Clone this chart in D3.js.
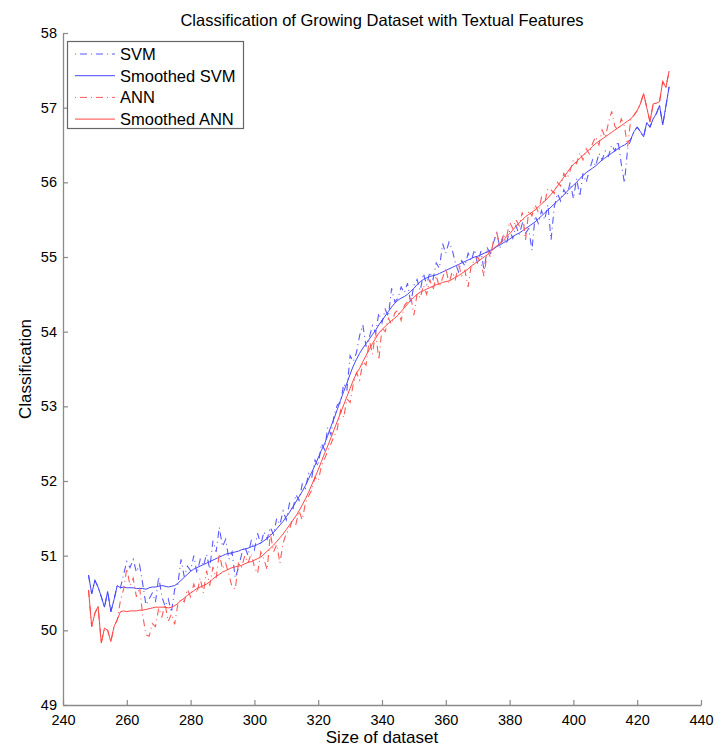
<!DOCTYPE html>
<html>
<head>
<meta charset="utf-8">
<script src="https://cdn.jsdelivr.net/npm/d3@7"></script>
<style>
  body { margin: 0; background: #fff; }
  svg text { font-family: "Liberation Sans", Arial, Helvetica, sans-serif; fill: #000; }
</style>
</head>
<body>
<svg id="chart" width="722" height="751"></svg>
<script>
// Werte
var xStart = 248;   // erster Wert der Datenreihe
var svmRaw = [
  50.74, 50.49, 50.67, 50.58, 50.45, 50.31, 50.52, 50.25, 50.41, 50.60, 50.57,
  50.75, 50.92, 50.84, 50.95, 50.78, 50.88, 50.62, 50.34, 50.42, 50.50, 50.38, 50.72,
  50.45, 50.32, 50.42, 50.24, 50.55, 50.62, 50.95, 50.72, 50.86, 50.80,
  51.00, 50.76, 50.95, 50.86, 51.02, 50.82, 51.20, 51.05, 51.38, 51.12,
  51.22, 50.95, 51.05, 50.70, 50.84, 51.02, 51.12, 51.00, 51.20, 51.08,
  51.30, 51.15, 51.32, 51.22, 51.38, 51.28, 51.50, 51.42, 51.60, 51.48,
  51.70, 51.60, 51.82, 51.74, 51.96, 51.90, 52.10, 52.05, 52.28, 52.20,
  52.50, 52.42, 52.72, 52.62, 52.88, 53.02, 53.05, 53.30, 53.22, 53.68,
  53.60, 53.72, 53.95, 54.09, 53.80, 53.92, 54.08, 53.98, 54.25, 54.12,
  54.30, 54.20, 54.58, 54.40, 54.45, 54.60, 54.52, 54.65, 54.38, 54.62,
  54.70, 54.55, 54.78, 54.62, 54.80, 54.70, 54.92, 54.85, 55.18, 55.05,
  55.20, 55.10, 54.92, 54.80, 54.95, 54.88, 55.05, 54.95, 55.10, 54.90,
  55.08, 54.82, 55.12, 55.05, 55.20, 55.32, 55.12, 55.28, 55.18, 55.35,
  55.25, 55.42, 55.30, 55.45, 55.32, 55.38, 55.09, 55.55, 55.45, 55.62,
  55.50, 55.70, 55.23, 55.67, 55.85, 55.75, 55.90, 55.82, 56.00, 55.78,
  56.05, 55.81, 56.12, 56.00, 56.16, 56.30, 56.22, 56.39, 56.30, 56.42,
  56.35, 56.50, 56.42, 56.55, 56.25, 55.99, 56.45, 56.57, 56.68, 56.74,
  56.68, 56.61, 56.80, 56.74, 56.85, 56.92, 57.03, 56.77, 57.02, 57.28
];
var svmSmooth = [
  50.74, 50.49, 50.67, 50.58, 50.45, 50.31, 50.52, 50.25, 50.41, 50.60, 50.57,
  50.58, 50.57, 50.57, 50.57, 50.56, 50.56, 50.56, 50.55, 50.57, 50.58, 50.58, 50.59,
  50.60, 50.59, 50.58, 50.59, 50.60, 50.63, 50.67, 50.71, 50.75, 50.79,
  50.82, 50.84, 50.86, 50.88, 50.90, 50.92, 50.94, 50.96, 50.98, 51.00,
  51.02, 51.03, 51.04, 51.05, 51.06, 51.08, 51.09, 51.10, 51.12, 51.13,
  51.15, 51.17, 51.20, 51.23, 51.27, 51.31, 51.36, 51.41, 51.46, 51.52,
  51.58, 51.65, 51.72, 51.79, 51.86, 51.94, 52.03, 52.12, 52.21, 52.31,
  52.41, 52.50, 52.61, 52.73, 52.84, 52.96, 53.08, 53.20, 53.31, 53.43,
  53.54, 53.63, 53.71, 53.78, 53.84, 53.90, 53.96, 54.02, 54.09, 54.15,
  54.21, 54.27, 54.33, 54.38, 54.42, 54.45, 54.47, 54.50, 54.54, 54.58,
  54.63, 54.67, 54.70, 54.72, 54.74, 54.75, 54.76, 54.78, 54.80, 54.82,
  54.84, 54.86, 54.88, 54.90, 54.92, 54.94, 54.96, 54.98, 55.00, 55.01,
  55.03, 55.05, 55.07, 55.09, 55.11, 55.14, 55.16, 55.19, 55.21, 55.24,
  55.27, 55.30, 55.32, 55.35, 55.38, 55.41, 55.44, 55.47, 55.51, 55.55,
  55.59, 55.63, 55.67, 55.71, 55.75, 55.79, 55.83, 55.88, 55.92, 55.96,
  56.00, 56.05, 56.09, 56.13, 56.16, 56.19, 56.22, 56.26, 56.30, 56.33,
  56.36, 56.39, 56.42, 56.45, 56.48, 56.50, 56.53, 56.58, 56.68, 56.74,
  56.68, 56.61, 56.80, 56.74, 56.85, 56.92, 57.03, 56.77, 57.02, 57.28
];
var annRaw = [
  50.54, 50.05, 50.23, 50.32, 49.83, 50.03, 50.00, 49.85, 50.05, 50.14, 50.40,
  50.55, 50.83, 50.60, 50.70, 50.45, 50.58, 50.20, 49.94, 49.92, 50.09, 50.05, 50.30,
  50.18, 50.35, 50.12, 50.22, 50.08, 50.35, 50.42, 50.38, 50.55, 50.45,
  50.62, 50.50, 50.70, 50.50, 50.80, 50.60, 50.85, 50.70, 51.03, 50.82,
  50.90, 50.75, 50.58, 50.55, 50.90, 50.85, 51.00, 50.90, 51.03, 50.85,
  50.76, 51.05, 50.95, 50.81, 51.30, 51.05, 51.15, 50.90, 51.17, 51.30,
  51.35, 51.50, 51.42, 51.60, 51.48, 51.70, 51.80, 51.88, 52.05, 52.00,
  52.20, 52.30, 52.40, 52.50, 52.60, 52.70, 52.95, 52.85, 53.10, 53.05,
  53.30, 53.45, 53.35, 53.60, 53.55, 53.89, 53.70, 54.00, 53.62, 54.05,
  54.00, 54.18, 54.10, 54.25, 54.29, 54.15, 54.35, 54.40, 54.48, 54.22,
  54.51, 54.45, 54.62, 54.50, 54.70, 54.55, 54.75, 54.60, 54.72, 54.85,
  54.65, 54.80, 54.70, 54.90, 54.75, 54.82, 54.60, 54.90, 54.95, 55.00,
  54.92, 54.74, 55.08, 55.00, 55.23, 55.32, 55.15, 55.30, 55.25, 55.47,
  55.38, 55.50, 55.42, 55.60, 55.23, 55.62, 55.55, 55.70, 55.60, 55.80,
  55.72, 55.92, 55.90, 55.85, 56.00, 55.95, 56.12, 56.05, 56.16, 56.30,
  56.25, 56.40, 56.30, 56.45, 56.38, 56.52, 56.61, 56.50, 56.70, 56.60,
  56.80, 56.95, 56.75, 56.70, 56.85, 56.75, 56.48, 56.85, 56.90, 56.96,
  57.05, 57.19, 57.00, 56.81, 57.05, 57.06, 57.08, 57.35, 57.27, 57.49
];
var annSmooth = [
  50.54, 50.05, 50.23, 50.32, 49.83, 50.03, 50.00, 49.85, 50.05, 50.14, 50.25,
  50.26, 50.25, 50.26, 50.26, 50.26, 50.27, 50.27, 50.28, 50.29, 50.30, 50.31, 50.31,
  50.31, 50.31, 50.30, 50.31, 50.33, 50.36, 50.40, 50.43, 50.47, 50.50,
  50.53, 50.56, 50.58, 50.60, 50.62, 50.65, 50.69, 50.72, 50.75, 50.78,
  50.80, 50.82, 50.84, 50.85, 50.86, 50.87, 50.89, 50.91, 50.92, 50.94,
  50.96, 50.98, 51.02, 51.06, 51.10, 51.14, 51.19, 51.24, 51.29, 51.35,
  51.41, 51.47, 51.53, 51.60, 51.68, 51.76, 51.85, 51.95, 52.05, 52.15,
  52.26, 52.37, 52.47, 52.58, 52.69, 52.80, 52.91, 53.02, 53.13, 53.24,
  53.35, 53.44, 53.51, 53.60, 53.68, 53.76, 53.84, 53.91, 53.98, 54.03,
  54.07, 54.11, 54.15, 54.18, 54.22, 54.27, 54.32, 54.37, 54.42, 54.46,
  54.50, 54.53, 54.55, 54.57, 54.59, 54.61, 54.63, 54.64, 54.66, 54.67,
  54.68, 54.70, 54.73, 54.75, 54.78, 54.81, 54.84, 54.88, 54.91, 54.94,
  54.97, 55.00, 55.03, 55.07, 55.11, 55.15, 55.18, 55.22, 55.27, 55.31,
  55.36, 55.41, 55.46, 55.50, 55.54, 55.57, 55.60, 55.63, 55.67, 55.71,
  55.75, 55.79, 55.84, 55.89, 55.95, 56.01, 56.07, 56.13, 56.19, 56.24,
  56.28, 56.32, 56.36, 56.40, 56.44, 56.48, 56.52, 56.55, 56.58, 56.61,
  56.64, 56.67, 56.70, 56.73, 56.76, 56.79, 56.82, 56.85, 56.90, 56.96,
  57.05, 57.19, 57.00, 56.81, 57.05, 57.06, 57.08, 57.35, 57.27, 57.49
];
var xTicks = [240, 260, 280, 300, 320, 340, 360, 380, 400, 420, 440];
var yTicks = [49, 50, 51, 52, 53, 54, 55, 56, 57, 58];

var titel = "Classification of Growing Dataset with Textual Features";
var xLabel = "Size of dataset";
var yLabel = "Classification";

var serien = [
  { name: "SVM", werte: svmRaw, farbe: "#5a5aff", dash: "7,4,1,4", breite: 1.1 },
  { name: "Smoothed SVM", werte: svmSmooth, farbe: "#4646ff", dash: null, breite: 1 },
  { name: "ANN", werte: annRaw, farbe: "#ff5a5a", dash: "7,4,1,4", breite: 1.1 },
  { name: "Smoothed ANN", werte: annSmooth, farbe: "#ff4646", dash: null, breite: 1 }
];

// Rahmen
var svg = d3.select("#chart"),
    randLinks = 63, randRechts = 701, randOben = 33, randUnten = 705;

var xScale = d3.scaleLinear().domain([240, 440]).range([randLinks, randRechts]),
    yScale = d3.scaleLinear().domain([49, 58]).range([randUnten, randOben]);

var achsenFarbe = "#8a8a8a";

// Linien
var line = d3.line()
    .x(function (d, i) { return xScale(xStart + i); })
    .y(function (d) { return yScale(d); });

svg.append("g").selectAll("path")
    .data(serien)
    .enter().append("path")
    .attr("d", function (d) { return line(d.werte); })
    .attr("fill", "none")
    .attr("stroke", function (d) { return d.farbe; })
    .attr("stroke-width", function (d) { return d.breite; })
    .attr("stroke-dasharray", function (d) { return d.dash; });

// X-Achse (Ticks nach innen)
var xAxis = svg.append("g")
    .attr("transform", "translate(0," + randUnten + ")")
    .call(d3.axisBottom(xScale).tickValues(xTicks).tickSizeInner(-5).tickSizeOuter(0).tickPadding(8));

// Y-Achse
var yAxis = svg.append("g")
    .attr("transform", "translate(" + randLinks + ",0)")
    .call(d3.axisLeft(yScale).tickValues(yTicks).tickSizeInner(-5).tickSizeOuter(0).tickPadding(6));

[xAxis, yAxis].forEach(function (ax) {
    ax.select(".domain").attr("stroke", achsenFarbe).attr("stroke-width", 1.3);
    ax.selectAll(".tick line").attr("stroke", achsenFarbe).attr("stroke-width", 1.2);
    ax.selectAll(".tick text")
        .style("font-family", "'Liberation Sans', Arial, sans-serif")
        .style("font-size", "14.5px")
        .attr("fill", "#000");
});
xAxis.selectAll(".tick text").attr("dy", "0.85em");

// Texte
svg.append("text")
    .attr("x", (randLinks + randRechts) / 2)
    .attr("y", 26)
    .attr("text-anchor", "middle")
    .style("font-size", "16.5px")
    .text(titel);

svg.append("text")
    .attr("x", (randLinks + randRechts) / 2)
    .attr("y", 743)
    .attr("text-anchor", "middle")
    .style("font-size", "17px")
    .text(xLabel);

svg.append("text")
    .attr("transform", "translate(31," + ((randOben + randUnten) / 2) + ") rotate(-90)")
    .attr("text-anchor", "middle")
    .style("font-size", "17px")
    .text(yLabel);

// Legende
var legX = 67, legY = 41, legW = 176, legH = 87;
var legend = svg.append("g");

legend.append("rect")
    .attr("x", legX + 0.5)
    .attr("y", legY + 0.5)
    .attr("width", legW)
    .attr("height", legH)
    .attr("fill", "#fff")
    .attr("stroke", "#666")
    .attr("stroke-width", 1.2);

var eintrag = legend.selectAll(".legendItem")
    .data(serien)
    .enter().append("g")
    .attr("class", "legendItem")
    .attr("transform", function (d, i) {
        return "translate(" + legX + "," + (legY + 13 + 21.7 * i) + ")";
    });

eintrag.append("line")
    .attr("x1", 8).attr("x2", 48)
    .attr("y1", 0).attr("y2", 0)
    .attr("stroke", function (d) { return d.farbe; })
    .attr("stroke-width", 1)
    .attr("stroke-dasharray", function (d) { return d.dash ? "1,4,7,4" : null; });

eintrag.append("text")
    .attr("x", 53)
    .attr("y", 6)
    .style("font-size", "16.5px")
    .text(function (d) { return d.name; });
</script>
</body>
</html>
